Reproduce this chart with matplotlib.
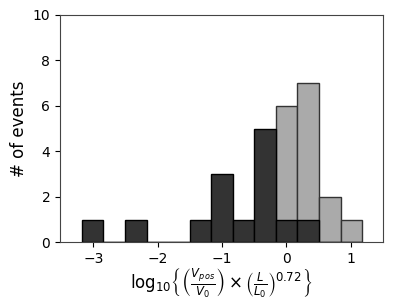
import numpy as np
import matplotlib
matplotlib.use("Agg")
import matplotlib.pyplot as plt

# histogram bins (log10 scaled velocity) and counts per bin
bin_edges = [-3.18, -2.845, -2.51, -2.175, -1.84, -1.505, -1.17,
             -0.835, -0.50, -0.165, 0.17, 0.505, 0.84, 1.175]
counts_dark = [1, 0, 1, 0, 0, 1, 3, 1, 5, 1, 1, 0, 0]
counts_light = [0, 0, 0, 0, 0, 0, 0, 0, 0, 6, 7, 2, 1]

fig, ax = plt.subplots(figsize=(4.04, 3.03), dpi=100)
fig.subplots_adjust(left=0.1485, right=0.948, top=0.9505, bottom=0.2003)

centers = bin_edges[:-1]
ax.hist(centers, bins=bin_edges, weights=counts_light, color="#aaaaaa",
        edgecolor="#333333", linewidth=1.0)
ax.hist(centers, bins=bin_edges, weights=counts_dark, color="#333333",
        edgecolor="black", linewidth=1.0)

ax.set_xlim(-3.52, 1.50)
ax.set_ylim(0, 10)
ax.set_xticks([-3, -2, -1, 0, 1])
ax.set_yticks([0, 2, 4, 6, 8, 10])
ax.tick_params(labelsize=10)
for s in ax.spines.values():
    s.set_color("#444444")

ax.set_ylabel("# of events", fontsize=12, labelpad=3)
ax.set_xlabel(r"$\mathrm{log}_{10}\left\{\left(\frac{V_{pos}}{V_0}\right)\times\left(\frac{L}{L_0}\right)^{0.72}\right\}$",
              fontsize=12, labelpad=0)

fig.savefig("out.png", dpi=100)
